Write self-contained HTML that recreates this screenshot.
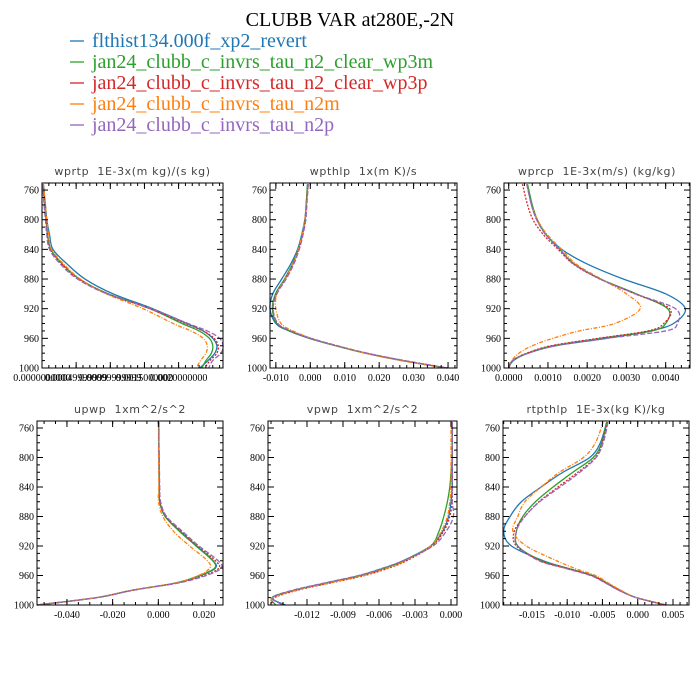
<!DOCTYPE html>
<html><head><meta charset="utf-8"><style>
html,body{margin:0;padding:0;background:#fff;}
svg{display:block;}
.pt{white-space:pre;}
</style></head><body>
<svg id="chart" width="700" height="700" xmlns="http://www.w3.org/2000/svg">
<rect width="700" height="700" fill="#fff"/>
<text x="350" y="26" text-anchor="middle" font-family="Liberation Serif, serif" font-size="20">CLUBB VAR at280E,-2N</text>
<g id="legend"></g>
<g id="panels"></g>
</svg>
<script>
const levels = [752,780,800,820,840,860,880,900,920,940,950,960,970,980,990,1000];
const seriesNames = ["flthist134.000f_xp2_revert","jan24_clubb_c_invrs_tau_n2_clear_wp3m","jan24_clubb_c_invrs_tau_n2_clear_wp3p","jan24_clubb_c_invrs_tau_n2m","jan24_clubb_c_invrs_tau_n2p"];
const panelTitles = ["wprtp  1E-3x(m kg)/(s kg)","wpthlp  1x(m K)/s","wprcp  1E-3x(m/s) (kg/kg)","upwp  1xm^2/s^2","vpwp  1xm^2/s^2","rtpthlp  1E-3x(kg K)/kg"];
const yTicks = [760,800,840,880,920,960,1000];

const wprtp = [
[0.02,0.05,0.07,0.11,0.16,0.37,0.63,1.04,1.62,2.12,2.36,2.50,2.56,2.53,2.43,2.31],
[0.02,0.04,0.06,0.08,0.13,0.30,0.55,0.97,1.58,2.05,2.30,2.45,2.50,2.48,2.40,2.34],
[0.02,0.04,0.06,0.08,0.12,0.29,0.54,0.96,1.58,2.10,2.36,2.52,2.58,2.56,2.46,2.38],
[0.02,0.05,0.07,0.10,0.14,0.32,0.56,0.94,1.48,1.92,2.18,2.36,2.42,2.40,2.32,2.26],
[0.01,0.03,0.05,0.07,0.11,0.27,0.52,0.95,1.60,2.14,2.42,2.60,2.65,2.62,2.50,2.44]];
const wpthlp = [
[-0.0008,-0.0012,-0.0016,-0.0025,-0.0037,-0.0057,-0.0083,-0.0109,-0.0117,-0.0100,-0.0062,-0.0003,0.0074,0.0160,0.0268,0.0396],
[-0.0008,-0.0012,-0.0015,-0.0023,-0.0035,-0.0052,-0.0075,-0.0101,-0.0110,-0.0097,-0.0060,-0.0002,0.0074,0.0160,0.0268,0.0396],
[-0.0007,-0.0011,-0.0014,-0.0022,-0.0033,-0.0050,-0.0072,-0.0098,-0.0108,-0.0095,-0.0057,0.0001,0.0078,0.0164,0.0272,0.0398],
[-0.0006,-0.0011,-0.0016,-0.0024,-0.0035,-0.0051,-0.0073,-0.0097,-0.0100,-0.0085,-0.0050,0.0003,0.0075,0.0158,0.0262,0.0390],
[-0.0006,-0.0010,-0.0013,-0.0021,-0.0032,-0.0048,-0.0070,-0.0097,-0.0108,-0.0094,-0.0056,0.0002,0.0079,0.0165,0.0274,0.0400]];
const wprcp = [
[0.00047,0.00058,0.00072,0.00095,0.00135,0.00201,0.00292,0.00400,0.00450,0.00420,0.00360,0.00250,0.00120,0.00050,0.00012,0.0],
[0.00048,0.00060,0.00073,0.00095,0.00130,0.00168,0.00234,0.00325,0.00405,0.00400,0.00365,0.00235,0.00112,0.00048,0.00010,0.0],
[0.00035,0.00048,0.00062,0.00088,0.00126,0.00165,0.00232,0.00322,0.00410,0.00395,0.00355,0.00228,0.00108,0.00046,0.00010,0.0],
[0.00046,0.00058,0.00073,0.00098,0.00135,0.00172,0.00236,0.00300,0.00335,0.00270,0.00180,0.00112,0.00060,0.00026,0.00008,0.0],
[0.00046,0.00058,0.00071,0.00094,0.00130,0.00166,0.00233,0.00323,0.00425,0.00430,0.00400,0.00250,0.00120,0.00050,0.00010,0.0]];
const upwp = [
[0.0002,0.0002,0.0003,0.0003,0.0004,0.0006,0.0030,0.0095,0.0168,0.0240,0.0250,0.0185,0.0080,-0.0114,-0.0270,-0.0530],
[0.0002,0.0002,0.0003,0.0003,0.0004,0.0006,0.0030,0.0092,0.0165,0.0238,0.0246,0.0180,0.0078,-0.0115,-0.0272,-0.0530],
[0.0002,0.0002,0.0003,0.0004,0.0005,0.0008,0.0033,0.0100,0.0172,0.0250,0.0265,0.0200,0.0085,-0.0112,-0.0268,-0.0530],
[0.0001,0.0001,0.0001,0.0002,0.0002,0.0001,0.0020,0.0066,0.0137,0.0215,0.0225,0.0175,0.0075,-0.0116,-0.0272,-0.0530],
[0.0003,0.0003,0.0004,0.0005,0.0006,0.0010,0.0036,0.0105,0.0178,0.0262,0.0275,0.0210,0.0090,-0.0110,-0.0266,-0.0530]];
const vpwp = [
[0.0001,0.0001,0.0001,0.0001,0.0001,0.0000,-0.0002,-0.0007,-0.0017,-0.0040,-0.0056,-0.0076,-0.0104,-0.0131,-0.0149,-0.0138],
[0.0001,0.0001,0.0001,0.0000,-0.0001,-0.0003,-0.0006,-0.0010,-0.0017,-0.0039,-0.0055,-0.0075,-0.0103,-0.0130,-0.0149,-0.0146],
[0.0001,0.0001,0.0001,0.0001,0.0001,0.0001,-0.0001,-0.0006,-0.0016,-0.0037,-0.0052,-0.0072,-0.0100,-0.0128,-0.0147,-0.0149],
[0.0000,0.0000,0.0000,0.0000,0.0000,-0.0001,-0.0003,-0.0008,-0.0017,-0.0038,-0.0053,-0.0073,-0.0101,-0.0129,-0.0148,-0.0150],
[0.0001,0.0001,0.0001,0.0001,0.0001,0.0001,0.0002,-0.0004,-0.0015,-0.0040,-0.0057,-0.0077,-0.0105,-0.0132,-0.0149,-0.0140]];
const rtpthlp = [
[-0.0044,-0.0053,-0.0068,-0.0106,-0.0137,-0.0165,-0.0181,-0.0190,-0.0179,-0.0134,-0.0100,-0.0065,-0.0045,-0.0026,-0.0002,0.0040],
[-0.0044,-0.0051,-0.0063,-0.0092,-0.0120,-0.0145,-0.0163,-0.0172,-0.0170,-0.0136,-0.0100,-0.0064,-0.0044,-0.0025,-0.0002,0.0040],
[-0.0043,-0.0050,-0.0060,-0.0085,-0.0113,-0.0140,-0.0160,-0.0175,-0.0172,-0.0138,-0.0102,-0.0065,-0.0045,-0.0026,-0.0002,0.0040],
[-0.0049,-0.0060,-0.0077,-0.0111,-0.0137,-0.0160,-0.0170,-0.0177,-0.0158,-0.0115,-0.0090,-0.0060,-0.0042,-0.0024,-0.0002,0.0040],
[-0.0042,-0.0049,-0.0059,-0.0082,-0.0110,-0.0139,-0.0160,-0.0172,-0.0170,-0.0140,-0.0104,-0.0067,-0.0046,-0.0027,-0.0002,0.0040]];

const xTicks1 = [0,0.5,1.0,1.5,2.0];
const xLabels1 = ["0.0000000000","0.00049999999","0.00099999999","0.0015000000","0.0020000000"];
const xTicks2 = [-0.010,0.000,0.010,0.020,0.030,0.040];
const xLabels2 = ["-0.010","0.000","0.010","0.020","0.030","0.040"];
const xTicks3 = [0,0.001,0.002,0.003,0.004];
const xLabels3 = ["0.0000","0.0010","0.0020","0.0030","0.0040"];
const xTicks4 = [-0.040,-0.020,0.000,0.020];
const xLabels4 = ["-0.040","-0.020","0.000","0.020"];
const xTicks5 = [-0.012,-0.009,-0.006,-0.003,0.000];
const xLabels5 = ["-0.012","-0.009","-0.006","-0.003","0.000"];
const xTicks6 = [-0.015,-0.010,-0.005,0.000,0.005];
const xLabels6 = ["-0.015","-0.010","-0.005","0.000","0.005"];

const colors = ["#1f77b4","#2ca02c","#d62728","#ff7f0e","#9467bd"];
const dashes = ["","","2,1.5","4,1.5,1,1.5","5,2"];
const NS = "http://www.w3.org/2000/svg";
function mk(tag, attrs, parent){const e=document.createElementNS(NS,tag);for(const k in attrs)e.setAttribute(k,attrs[k]);parent.appendChild(e);return e;}
function smoothPath(P){
  let d = 'M'+P[0][0].toFixed(2)+','+P[0][1].toFixed(2);
  for(let i=0;i<P.length-1;i++){
    const p0=P[Math.max(0,i-1)],p1=P[i],p2=P[i+1],p3=P[Math.min(P.length-1,i+2)];
    const c1=[p1[0]+(p2[0]-p0[0])/6,p1[1]+(p2[1]-p0[1])/6];
    const c2=[p2[0]-(p3[0]-p1[0])/6,p2[1]-(p3[1]-p1[1])/6];
    d+=' C'+c1[0].toFixed(2)+','+c1[1].toFixed(2)+' '+c2[0].toFixed(2)+','+c2[1].toFixed(2)+' '+p2[0].toFixed(2)+','+p2[1].toFixed(2);
  }
  return d;
}

const leg = document.getElementById('legend');
seriesNames.forEach((n,i)=>{
  const yb = 47 + i*21;
  const ln = mk('line',{x1:70,x2:84,y1:yb-6,y2:yb-6,stroke:colors[i],'stroke-width':1.3},leg);
  
  
  const t = mk('text',{x:92,y:yb,'font-family':'Liberation Serif, serif','font-size':20,fill:colors[i]},leg);
  t.textContent = n;
  
  
});

const panels = [
 {data:wprtp,x0:42,x1:223,y0:183,y1:368,xmin:0,xmax:2.65,ticks:xTicks1,labels:xLabels1,minor:0.1,name:'wprtp-panel'},
 {data:wpthlp,x0:270,x1:457,y0:183,y1:368,xmin:-0.0117,xmax:0.0426,ticks:xTicks2,labels:xLabels2,minor:0.002,name:'wpthlp-panel'},
 {data:wprcp,x0:504,x1:690,y0:183,y1:368,xmin:-0.00012,xmax:0.00462,ticks:xTicks3,labels:xLabels3,minor:0.0002,name:'wprcp-panel'},
 {data:upwp,x0:37,x1:223,y0:421,y1:605,xmin:-0.0531,xmax:0.0283,ticks:xTicks4,labels:xLabels4,minor:0.005,name:'upwp-panel'},
 {data:vpwp,x0:268,x1:457,y0:421,y1:605,xmin:-0.01525,xmax:0.0005,ticks:xTicks5,labels:xLabels5,minor:0.001,name:'vpwp-panel'},
 {data:rtpthlp,x0:503,x1:689,y0:421,y1:605,xmin:-0.0191,xmax:0.00727,ticks:xTicks6,labels:xLabels6,minor:0.001,name:'rtpthlp-panel'}
];
const ymin = 750.5, ymax = 1000;
const root = document.getElementById('panels');
panels.forEach((p,pi)=>{
  const g = mk('g',{},root);
  
  
  const X = v => p.x0 + (v-p.xmin)/(p.xmax-p.xmin)*(p.x1-p.x0);
  const Y = v => p.y0 + (v-ymin)/(ymax-ymin)*(p.y1-p.y0);
  const tt = mk('text',{class:'pt',x:(p.x0+p.x1)/2,y:p.y0-8,'text-anchor':'middle','font-family':'DejaVu Sans, sans-serif','font-size':11,fill:'#444','letter-spacing':'0.6'},g);
  tt.textContent = panelTitles[pi];
  
  
  p.data.forEach((vals,si)=>{
    const pts = vals.map((v,k)=>[X(v),Y(levels[k])]);
    const pl = mk('path',{d:smoothPath(pts),fill:'none',stroke:colors[si],'stroke-width':1.3,'stroke-dasharray':dashes[si]||'none'},g);
    
    
  });
  const fr = mk('rect',{x:p.x0,y:p.y0,width:p.x1-p.x0,height:p.y1-p.y0,fill:'none',stroke:'#000','stroke-width':1},g);
  
  
  for(let v=760; v<=1000; v+=10){
    const y=Y(v); const major=(v-760)%40===0; const l=major?6:3;
    mk('line',{x1:p.x0,x2:p.x0+l,y1:y,y2:y,stroke:'#000','stroke-width':1},g);
    mk('line',{x1:p.x1,x2:p.x1-l,y1:y,y2:y,stroke:'#000','stroke-width':1},g);
  }
  yTicks.forEach(v=>{
    const t = mk('text',{x:p.x0-3,y:Y(v)+3.5,'text-anchor':'end','font-family':'Liberation Serif, serif','font-size':10},g);
    t.textContent = v;
    
    
  });
  const start = Math.ceil(p.xmin/p.minor);
  for(let k=start; k*p.minor<=p.xmax; k++){
    const x=X(k*p.minor);
    mk('line',{x1:x,x2:x,y1:p.y1,y2:p.y1-3,stroke:'#000','stroke-width':1},g);
    mk('line',{x1:x,x2:x,y1:p.y0,y2:p.y0+3,stroke:'#000','stroke-width':1},g);
  }
  p.ticks.forEach((v,k)=>{
    const x=X(v);
    mk('line',{x1:x,x2:x,y1:p.y1,y2:p.y1-6,stroke:'#000','stroke-width':1},g);
    mk('line',{x1:x,x2:x,y1:p.y0,y2:p.y0+6,stroke:'#000','stroke-width':1},g);
    const t = mk('text',{x:x,y:p.y1+13,'text-anchor':'middle','font-family':'Liberation Serif, serif','font-size':10},g);
    t.textContent = p.labels[k];
    
    
  });
});
</script>
</body></html>
